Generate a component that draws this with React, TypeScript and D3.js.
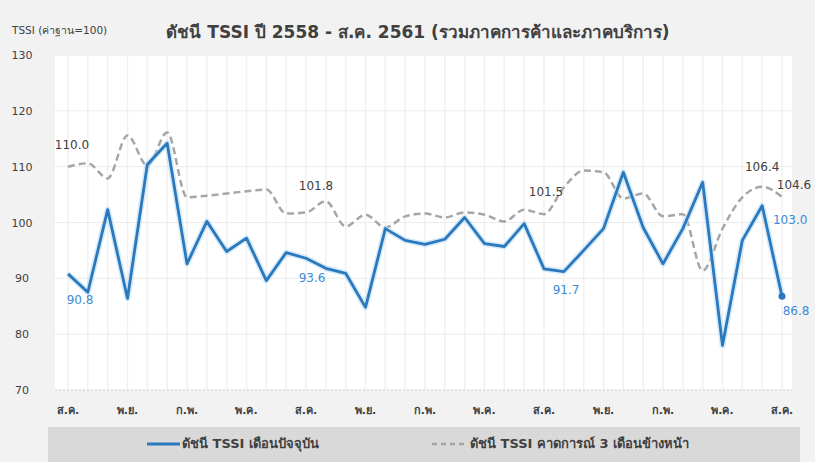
import React from 'react';
import * as d3 from 'd3';

const currentIndex = [90.8, 87.5, 102.3, 86.4, 110.4, 114.2, 92.6, 100.2, 94.8, 97.2, 89.6, 94.6, 93.6, 91.8, 90.9, 84.8, 98.9, 96.8, 96.1, 97.0, 100.9, 96.2, 95.7, 99.8, 91.7, 91.2, 95.0, 98.9, 109.0, 99.1, 92.6, 98.9, 107.2, 78.0, 96.8, 103.0, 86.8];
const expectIndex = [110.0, 110.6, 107.9, 115.6, 110.2, 116.1, 104.5, 104.8, 105.2, 105.6, 105.9, 101.6, 101.8, 103.8, 99.3, 101.4, 99.1, 101.1, 101.6, 100.9, 101.8, 101.4, 100.2, 102.3, 101.5, 106.3, 109.3, 109.0, 104.3, 105.2, 101.1, 101.5, 91.4, 98.9, 104.5, 106.4, 104.6];
const monthTicks = ['ส.ค.', 'พ.ย.', 'ก.พ.', 'พ.ค.', 'ส.ค.', 'พ.ย.', 'ก.พ.', 'พ.ค.', 'ส.ค.', 'พ.ย.', 'ก.พ.', 'พ.ค.', 'ส.ค.'];
const yTicks = [70, 80, 90, 100, 110, 120, 130];

// labelled points: [index, dx, dy]
const expectLabels: [number, number, number][] = [[0, 4, -18], [12, 10, -22], [24, 2, -18], [35, 0, -16], [36, 12, -8]];
const currentLabels: [number, number, number][] = [[0, 12, 30], [12, 6, 24], [24, 22, 25], [35, 28, 18], [36, 14, 19]];

const W = 815;
const H = 462;
const font = '"DejaVu Sans", "Noto Sans", sans-serif';

export default function App() {
  const x = d3.scaleLinear().domain([0, currentIndex.length - 1]).range([68, 782]);
  const y = d3.scaleLinear().domain([70, 130]).range([390, 55]);

  const solid = d3.line<number>().x((_, i) => x(i)).y(d => y(d));
  const dashed = d3.line<number>().x((_, i) => x(i)).y(d => y(d)).curve(d3.curveMonotoneX);

  return (
    <svg width={W} height={H} style={{ position: 'absolute', left: 0, top: 0 }} fontFamily={font}>
      <rect width={W} height={H} fill="#f2f2f2" />
      <rect x={55} y={55} width={737} height={335} fill="#ffffff" />

      {/* grid */}
      {d3.range(currentIndex.length).map(i => (
        <line key={'v' + i} x1={x(i)} x2={x(i)} y1={55} y2={390} stroke="#f1f1f1" strokeWidth={1.5} />
      ))}
      {yTicks.slice(1).map(t => (
        <line key={'h' + t} x1={55} x2={792} y1={y(t)} y2={y(t)} stroke="#ececec" />
      ))}
      <line x1={55} x2={792} y1={390} y2={390} stroke="#c8c8c8" strokeDasharray="2,2" />

      {/* y ticks */}
      {yTicks.map(t => (
        <text key={t} x={22} y={y(t) + 4} textAnchor="middle" fontSize={11} fill="#404040">{t}</text>
      ))}
      <text x={12} y={34} fontSize={10.5} fill="#404040">TSSI (ค่าฐาน=100)</text>
      <text x={418} y={38} textAnchor="middle" fontSize={17} fontWeight="bold" fill="#404040">
        ดัชนี TSSI ปี 2558 - ส.ค. 2561 (รวมภาคการค้าและภาคบริการ)
      </text>

      {/* x ticks */}
      {monthTicks.map((m, k) => (
        <text key={'m' + k} x={x(k * 3)} y={414} textAnchor="middle" fontSize={11} fontWeight="bold" fill="#404040">{m}</text>
      ))}

      {/* series */}
      <path d={dashed(expectIndex) || ''} fill="none" stroke="#a6a6a6" strokeWidth={2.5} strokeDasharray="7,4" />
      <path d={solid(currentIndex) || ''} fill="none" stroke="#bcdcf5" strokeWidth={6} strokeOpacity={0.6} strokeLinejoin="round" />
      <path d={solid(currentIndex) || ''} fill="none" stroke="#2a78bd" strokeWidth={2.8} strokeLinejoin="round" />
      <circle cx={x(currentIndex.length - 1)} cy={y(currentIndex[currentIndex.length - 1])} r={3.5} fill="#2a78bd" />

      {/* data labels */}
      {expectLabels.map(([i, dx, dy]) => (
        <text key={'e' + i} x={x(i) + dx} y={y(expectIndex[i]) + dy} textAnchor="middle" fontSize={12} fill="#404040">
          {expectIndex[i].toFixed(1)}
        </text>
      ))}
      {currentLabels.map(([i, dx, dy]) => (
        <text key={'c' + i} x={x(i) + dx} y={y(currentIndex[i]) + dy} textAnchor="middle" fontSize={12} fill="#3d8ad6">
          {currentIndex[i].toFixed(1)}
        </text>
      ))}

      {/* legend */}
      <rect x={48} y={427} width={752} height={35} fill="#d9d9d9" />
      <line x1={147} x2={180} y1={444} y2={444} stroke="#2a78bd" strokeWidth={3} />
      <text x={182} y={448} fontSize={13} fontWeight="bold" fill="#404040">ดัชนี TSSI เดือนปัจจุบัน</text>
      <line x1={432} x2={466} y1={444} y2={444} stroke="#a6a6a6" strokeWidth={2.5} strokeDasharray="5,4" />
      <text x={470} y={448} fontSize={13} fontWeight="bold" fill="#404040">ดัชนี TSSI คาดการณ์ 3 เดือนข้างหน้า</text>
    </svg>
  );
}
